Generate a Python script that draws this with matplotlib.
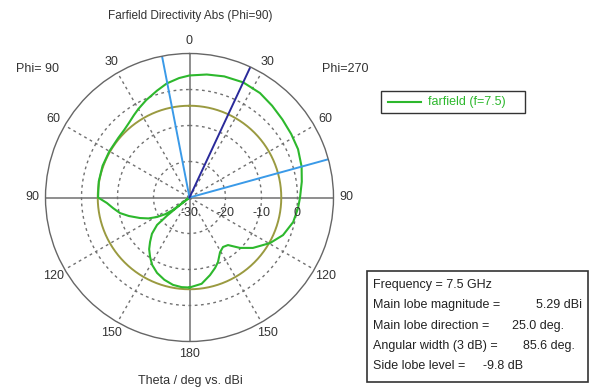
import numpy as np
import matplotlib.pyplot as plt
from matplotlib.patches import Rectangle
from matplotlib.lines import Line2D

plt.rcParams['font.family'] = ['Liberation Sans', 'DejaVu Sans']

# farfield cut, theta in deg (clockwise from top, left side negative), directivity in dBi
theta_deg = [-180, -175, -169.3, -163, -156.7, -151, -146.4, -142, -138.4, -134, -130.2,
             -129, -128.2, -127.6, -127, -124.5, -121, -117, -112.5, -107, -102.6, -98,
             -93.8, -90, -80, -70, -60, -50, -44, -39, -34, -30, -24, -17, -11.3, -5,
             0, 8, 16, 25, 34, 42, 50, 58, 66, 74.6, 82, 90,
             95.5, 103.3, 111.9, 119.5, 128.5, 135, 141, 145.9, 150.8, 156.2, 160,
             165.2, 172, 180]
gain_db = [-5.0, -5.0, -5.3, -6.1, -7.2, -8.6, -10.2, -11.8, -13.5, -15.5, -18.2,
           -22, -26, -30, -24.2, -21.8, -19.5, -17.2, -15.1, -12.4, -10.2, -8.6,
           -7.0, -4.6, -4.4, -4.3, -4.3, -4.2, -3.9, -3.3, -2.4, -1.6, -0.4, 1.0, 2.3, 3.3,
           3.9, 4.5, 5.0, 5.29, 5.0, 4.3, 3.7, 3.3, 3.0, 2.3, 1.5, 0.7,
           0.3, -0.4, -2.0, -4.3, -7.5, -10.2, -13.0, -13.4, -12.6, -10.4, -9.2,
           -7.7, -5.8, -5.0]

main_dir = 25.0
beam_edges = [-11.0, 74.6]
side_lobe_circle = 5.29 - 9.8
r_ticks = [-30, -20, -10, 0]
r_min, r_max = -30, 10
angle_labels = [0, 30, 60, 90, 120, 150, 180, -150, -120, -90, -60, -30]

info_lines = ["Frequency = 7.5 GHz", "Main lobe magnitude =", "Main lobe direction =",
              "Angular width (3 dB) =", "Side lobe level ="]
info_values = ["", "5.29 dBi", "25.0 deg.", "85.6 deg.", "-9.8 dB"]

W, H = 589, 389
fig = plt.figure(figsize=(W / 100, H / 100), dpi=100)
cx, cy, R = 189.5, 197.5, 144
ax = fig.add_axes([(cx - R) / W, (H - cy - R) / H, 2 * R / W, 2 * R / H], projection='polar')
ax.set_theta_zero_location('N')
ax.set_theta_direction(-1)
ax.set_ylim(r_min, r_max)
ax.set_xticks([])
ax.set_yticks([])
ax.grid(False)
ax.spines['polar'].set_color('#666666')
ax.spines['polar'].set_linewidth(1.0)

grey = '#707070'
full = np.linspace(0, 2 * np.pi, 361)
for r in r_ticks[1:]:
    ax.plot(full, np.full_like(full, r), color=grey, lw=1, ls=(0, (2, 2.5)))
for a in [30, 60, 120, 150, 210, 240, 300, 330]:
    ax.plot([np.deg2rad(a)] * 2, [r_min, r_max], color=grey, lw=1, ls=(0, (2, 2.5)))
for a in [0, 90, 180, 270]:
    ax.plot([np.deg2rad(a)] * 2, [r_min, r_max], color=grey, lw=1.1)

ax.plot(full, np.full_like(full, side_lobe_circle), color='#9a9a40', lw=1.4)
ax.plot(np.deg2rad(theta_deg), gain_db, color='#2db82d', lw=1.5)
for a in beam_edges:
    ax.plot([np.deg2rad(a)] * 2, [r_min, r_max], color='#3a9ae8', lw=1.4)
ax.plot([np.deg2rad(main_dir)] * 2, [r_min, r_max], color='#2a2a9a', lw=1.4)

txt = '#333333'
for a in angle_labels:
    ax.text(np.deg2rad(a), 13.6, str(abs(a)), ha='center', va='center', fontsize=9, color=txt)
for r in r_ticks:
    ax.annotate(str(r), xy=(np.pi / 2, r), xytext=(0, -16), textcoords='offset pixels',
                ha='center', va='center', fontsize=9, color=txt)

def fx(x):
    return x / W

def fy(y):
    return 1 - y / H

fig.text(fx(190), fy(16), "Farfield Directivity Abs (Phi=90)", ha='center', va='center',
         fontsize=8.5, color=txt)
fig.text(fx(38), fy(69), "Phi= 90", ha='center', va='center', fontsize=9, color=txt)
fig.text(fx(345), fy(69), "Phi=270", ha='center', va='center', fontsize=9, color=txt)
fig.text(fx(190), fy(381), "Theta / deg vs. dBi", ha='center', va='center', fontsize=9, color=txt)

# legend
fig.patches.append(Rectangle((fx(381), fy(113)), (525 - 381) / W, 22 / H, transform=fig.transFigure,
                             fill=False, edgecolor='#333333', lw=1))
fig.lines.append(Line2D([fx(388), fx(421)], [fy(102), fy(102)], transform=fig.transFigure,
                        color='#2db82d', lw=1.5))
fig.text(fx(428), fy(102), "farfield (f=7.5)", ha='left', va='center', fontsize=9, color='#2db82d')

# info box
fig.patches.append(Rectangle((fx(367), fy(382)), (588 - 367) / W, 111 / H, transform=fig.transFigure,
                             fill=False, edgecolor='#333333', lw=1.2))
value_x = [0, 582, 512, 523, 483]
for i, (lab, val) in enumerate(zip(info_lines, info_values)):
    y = 285 + i * 20.3
    fig.text(fx(373), fy(y), lab, ha='left', va='center', fontsize=9, color='#222222')
    if val:
        if i == 1:
            fig.text(fx(value_x[i]), fy(y), val, ha='right', va='center', fontsize=9, color='#222222')
        else:
            fig.text(fx(value_x[i]), fy(y), val, ha='left', va='center', fontsize=9, color='#222222')

fig.savefig('out.png', dpi=100)
